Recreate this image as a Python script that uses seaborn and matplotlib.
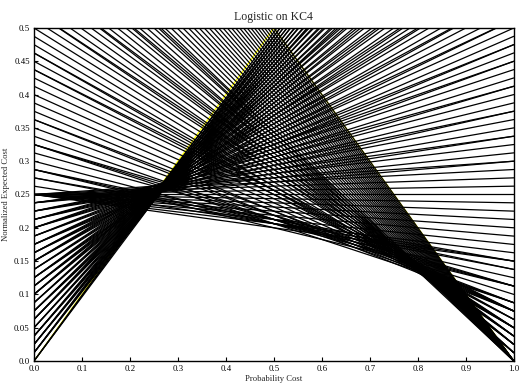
import matplotlib
matplotlib.use("Agg")
import matplotlib.pyplot as plt
import seaborn as sns
import pandas as pd

sns.set_theme(style="white")
plt.rcParams['font.family'] = ['Liberation Serif', 'DejaVu Serif']

# ROC operating points (counts): each line runs from
# (0, FPR) to (1, FNR)
n_neg = 80
n_pos = 80
false_pos = [
    0, 0, 0,
    1, 1, 1, 1, 2, 2, 2, 2, 3, 3, 3, 3, 4, 4, 4,
    5, 5, 5, 5, 6, 6, 6, 6, 7, 7, 7, 8, 8, 8, 8,
    9, 9, 9, 9, 10, 10, 10, 10, 11, 11, 11, 12, 12, 12, 12,
    13, 13, 13, 13, 14, 14, 14, 14, 15, 15, 15, 16, 16, 16, 16,
    17, 17, 17, 17, 18, 18, 18, 18, 19, 19, 19, 19,
    20, 20, 20, 20, 20, 20, 20, 20, 20, 20, 20, 20, 20,
    21, 22, 22, 23, 23, 23, 24, 25, 26, 26, 26, 27, 28, 29, 29, 30,
    31, 32, 33, 34, 35, 35, 36, 37, 37, 38, 39, 40, 41, 42, 42, 43,
    44, 45, 46, 46, 47, 48, 49, 50, 50, 51, 52, 53, 54, 54,
    55, 56, 57, 58, 59, 60, 61, 62, 63, 64, 65, 66, 67, 68, 69, 70,
    71, 72, 73, 74, 75, 76, 77, 78, 79, 80,
]
false_neg = [
    79, 78, 77,
    77, 76, 75, 74, 74, 73, 72, 71, 71, 70, 69, 68, 68, 67, 66,
    66, 65, 64, 63, 63, 62, 61, 60, 60, 59, 58, 58, 57, 56, 55,
    55, 54, 53, 52, 52, 51, 50, 49, 49, 48, 47, 47, 46, 45, 44,
    44, 43, 42, 41, 41, 40, 39, 38, 38, 37, 36, 36, 35, 34, 33,
    33, 32, 31, 30, 30, 29, 28, 27, 27, 26, 25, 24,
    24, 23, 22, 21, 20, 19, 18, 17, 16, 15, 14, 13, 12,
    12, 12, 11, 11, 10, 9, 9, 9, 9, 8, 7, 7, 7, 7, 6, 6,
    6, 6, 6, 6, 6, 5, 5, 5, 4, 4, 4, 4, 4, 4, 3, 3,
    3, 3, 3, 2, 2, 2, 2, 2, 1, 1, 1, 1, 1, 0,
    0, 0, 0, 0, 0, 0, 0, 0, 0, 0, 0, 0, 0, 0, 0, 0,
    0, 0, 0, 0, 0, 0, 0, 0, 0, 0,
]
assert len(false_pos) == len(false_neg)

x_ticks = [0.0, 0.1, 0.2, 0.3, 0.4, 0.5, 0.6, 0.7, 0.8, 0.9, 1.0]
x_labels = ["0.0", "0.1", "0.2", "0.3", "0.4", "0.5", "0.6", "0.7", "0.8", "0.9", "1.0"]
y_ticks = [0.0, 0.05, 0.1, 0.15, 0.2, 0.25, 0.3, 0.35, 0.4, 0.45, 0.5]
y_labels = ["0.0", "0.05", "0.1", "0.15", "0.2", "0.25", "0.3", "0.35", "0.4", "0.45", "0.5"]

# trivial classifiers (always positive / always negative)
triv_x = [0.0, 0.5, 1.0]
triv_y = [0.0, 0.5, 0.0]

rows = []
for i, (fp, fn) in enumerate(zip(false_pos, false_neg)):
    rows.append({"line": i, "pc": 0.0, "nec": fp / n_neg})
    rows.append({"line": i, "pc": 1.0, "nec": fn / n_pos})
df = pd.DataFrame(rows)

fig = plt.figure(figsize=(5.2, 3.92), dpi=100)
ax = fig.add_axes([0.0654, 0.0791, 0.9226, 0.8495])

ax.plot([triv_x[0], 1.0], [triv_y[0], 1.0], color="#ffff00", lw=1.0, zorder=1)
ax.plot([0.0, triv_x[2]], [1.0, triv_y[2]], color="#ffff00", lw=1.0, zorder=1)

sns.lineplot(data=df, x="pc", y="nec", units="line", estimator=None,
             color="black", lw=0.9, ax=ax, legend=False, zorder=2)

ax.set_xlim(0, 1)
ax.set_ylim(0, 0.5)
ax.set_xticks(x_ticks)
ax.set_xticklabels(x_labels)
ax.set_yticks(y_ticks)
ax.set_yticklabels(y_labels)
ax.tick_params(direction="in", length=3, width=0.8, labelsize=6.3,
               top=False, right=False, bottom=True, left=True, pad=3, colors="black")
for s in ax.spines.values():
    s.set_color("black")
    s.set_linewidth(1.0)

ax.set_title("Logistic on KC4", fontsize=8.5, pad=6)
ax.set_xlabel("Probability Cost", fontsize=6.2, labelpad=1)
ax.set_ylabel("Normalized Expected Cost", fontsize=6.2, labelpad=3)

fig.savefig("out.png", dpi=100)
